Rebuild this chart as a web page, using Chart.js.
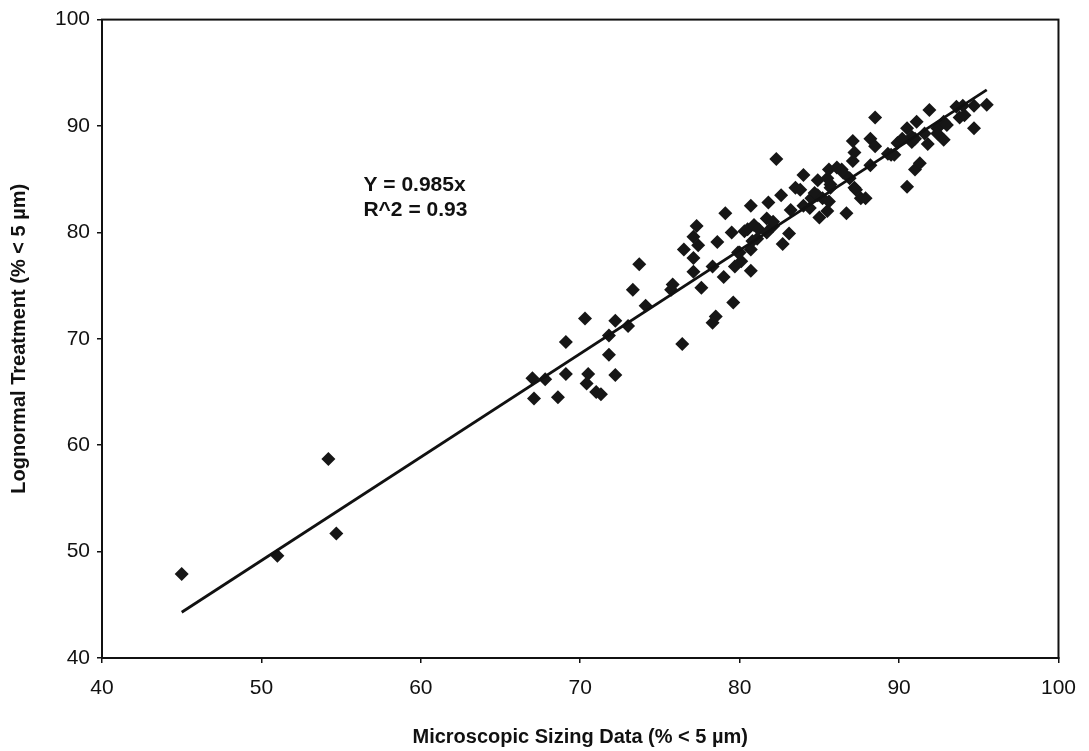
<!DOCTYPE html>
<html>
<head>
<meta charset="utf-8">
<script src="https://cdn.jsdelivr.net/npm/chart.js@4.4.1/dist/chart.umd.min.js"></script>
<style>
html,body{margin:0;padding:0;background:#fff;}
#wrap{width:1089px;height:751px;position:relative;}
</style>
</head>
<body>
<div id="wrap"><canvas id="c" width="1089" height="751"></canvas></div>
<script>
// Scatter data (Microscopic sizing %, Lognormal treatment %)
const xValues = [45.0,51.0,54.2,54.7,
67.0,67.1,67.8,68.6,69.1,69.1,70.3,70.5,70.4,71.3,71.0,71.8,71.8,72.2,72.2,73.0,73.3,73.7,74.1,75.7,75.8,76.4,76.5,
77.1,77.3,77.4,77.1,77.1,77.6,78.3,78.6,78.5,78.3,79.0,79.1,79.5,79.6,79.9,79.7,80.1,80.5,80.3,80.7,80.7,80.7,80.0,
80.8,81.1,80.9,81.2,81.7,81.8,81.7,82.1,82.1,82.3,82.6,82.7,83.1,83.2,83.5,83.8,84.0,84.0,84.4,84.5,84.7,84.9,84.9,
85.0,85.2,85.5,85.5,85.6,85.6,85.7,85.7,86.1,86.4,86.5,86.7,86.9,87.1,87.1,87.2,87.2,87.3,87.6,87.9,88.2,88.2,88.5,
88.5,89.3,89.5,89.7,89.9,90.2,90.5,90.5,90.8,90.8,91.0,91.1,91.0,91.3,91.6,91.8,91.9,92.4,92.4,92.8,92.8,93.0,93.6,
94.0,93.8,94.1,94.7,94.7,95.5];
const yValues = [47.9,49.6,58.7,51.7,
66.3,64.4,66.2,64.5,69.7,66.7,71.9,66.7,65.8,64.8,65.0,70.3,68.5,71.7,66.6,71.2,74.6,77.0,73.1,74.6,75.1,69.5,78.4,
79.6,80.6,78.8,77.6,76.3,74.8,76.8,79.1,72.1,71.5,75.8,81.8,80.0,73.4,78.1,76.8,77.3,80.3,80.1,82.5,76.4,78.4,78.1,
79.2,79.4,80.7,80.3,81.3,82.8,80.0,80.6,81.0,86.9,83.5,78.9,79.9,82.1,84.2,84.0,85.4,82.5,82.3,83.2,83.7,84.9,83.5,
81.4,83.2,85.1,82.0,82.9,85.9,84.5,84.2,86.1,85.9,85.6,81.8,85.1,88.6,86.7,87.5,84.2,84.0,83.2,83.2,88.8,86.3,88.1,
90.8,87.4,87.3,87.3,88.4,88.8,89.8,84.3,89.0,88.5,88.8,90.4,85.9,86.5,89.3,88.3,91.5,89.8,89.3,88.7,90.4,90.1,91.8,
91.9,90.8,91.0,91.9,89.8,92.0];
// Trend line endpoints as drawn
const fitX = [45.0, 95.5];
const fitY = [44.3, 93.4];
const xTicks = [40,50,60,70,80,90,100];
const yTicks = [40,50,60,70,80,90,100];
const xTitle = 'Microscopic Sizing Data (% < 5 µm)';
const yTitle = 'Lognormal Treatment (% < 5 µm)';
const eqLines = ['Y = 0.985x', 'R^2 = 0.93'];
const eqPos = {x: 56.4, y: 84.4};

const pts = xValues.map((x,i)=>({x:x, y:yValues[i]}));
const fitPts = fitX.map((x,i)=>({x:x, y:fitY[i]}));

const INK = '#111111';
const FONT = "'Liberation Sans', Arial, sans-serif";

const framePlugin = {
  id:'frame',
  afterDraw(chart){
    const {ctx, chartArea:a, scales} = chart;
    ctx.save();
    ctx.strokeStyle = INK;
    ctx.lineWidth = 2;
    ctx.strokeRect(a.left, a.top, a.right-a.left, a.bottom-a.top);
    ctx.fillStyle = INK;
    ctx.font = "bold 21px " + FONT;
    ctx.textBaseline = 'middle';
    ctx.textAlign = 'left';
    const px = scales.x.getPixelForValue(eqPos.x);
    const py = scales.y.getPixelForValue(eqPos.y);
    eqLines.forEach((t,i)=>ctx.fillText(t, px, py + i*25));
    ctx.restore();
  }
};

new Chart(document.getElementById('c'), {
  type: 'scatter',
  data: {
    datasets: [
      {
        type:'line',
        data: fitPts,
        borderColor: INK,
        borderWidth: 2.8,
        pointRadius: 0,
        fill:false,
        order: 0
      },
      {
        data: pts,
        pointStyle: 'rectRot',
        pointRadius: 7,
        pointBackgroundColor: '#161616',
        pointBorderColor: '#161616',
        pointBorderWidth: 0,
        order: 1
      }
    ]
  },
  options: {
    responsive: false,
    animation: false,
    devicePixelRatio: 1,
    layout: { padding: {left:0, right:30, top:17, bottom:0} },
    plugins: { legend:{display:false}, tooltip:{enabled:false} },
    scales: {
      x: {
        type:'linear', min:40, max:100,
        afterBuildTicks(s){ s.ticks = xTicks.map(v=>({value:v})); },
        afterFit(s){ s.height = 93; },
        grid:{ drawOnChartArea:false, drawTicks:true, tickLength:5, color:INK, lineWidth:1.5 },
        border:{ color:INK, width:2 },
        ticks:{ color:INK, font:{family:FONT, size:21}, padding:13, maxRotation:0 },
        title:{ display:true, text:xTitle, color:INK, font:{family:FONT, size:20, weight:'bold'}, padding:{top:0,bottom:2} }
      },
      y: {
        type:'linear', min:40, max:100,
        afterBuildTicks(s){ s.ticks = yTicks.map(v=>({value:v})); },
        afterFit(s){ s.width = 102; },
        grid:{ drawOnChartArea:false, drawTicks:true, tickLength:5, color:INK, lineWidth:1.5 },
        border:{ color:INK, width:2 },
        ticks:{ color:INK, font:{family:FONT, size:21}, padding:7 },
        title:{ display:true, text:yTitle, color:INK, font:{family:FONT, size:20, weight:'bold'}, padding:{top:7,bottom:0} }
      }
    }
  },
  plugins:[framePlugin]
});
</script>
</body>
</html>
